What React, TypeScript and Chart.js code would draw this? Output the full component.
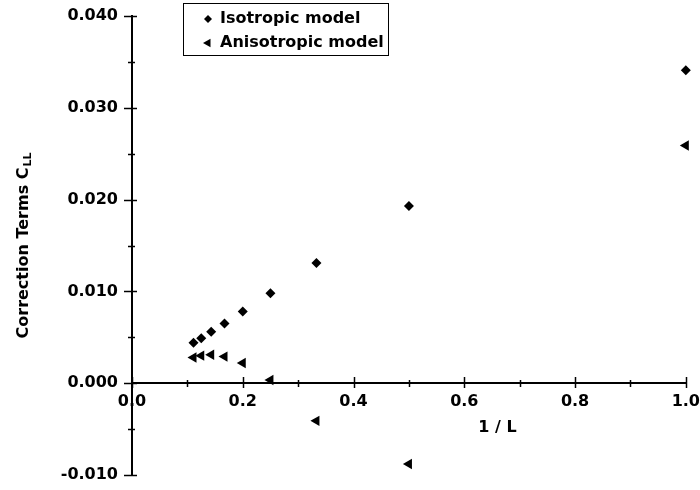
import { useEffect, useRef } from 'react';
import { Chart, registerables } from 'chart.js';

Chart.register(...registerables);

// 1/L values (L = 9, 8, 7, 6, 5, 4, 3, 2, 1)
const invL = [0.111, 0.125, 0.143, 0.167, 0.2, 0.25, 0.333, 0.5, 1.0];
const isotropic = [0.0044, 0.0049, 0.0056, 0.0065, 0.0078, 0.0098, 0.0131, 0.0193, 0.0341];
const anisotropic = [0.0028, 0.003, 0.0031, 0.0029, 0.0022, 0.00035, -0.0041, -0.0088, 0.0259];
const seriesLabels = ['Isotropic model', 'Anisotropic model'];

const xMajorTicks = [0, 0.2, 0.4, 0.6, 0.8, 1.0];
const xTickLabels = ['0.0', '0.2', '0.4', '0.6', '0.8', '1.0'];
const yMajorTicks = [-0.01, 0, 0.01, 0.02, 0.03, 0.04];
const yTickLabels = ['-0.010', '0.000', '0.010', '0.020', '0.030', '0.040'];

const xTitle = '1 / L';
const yTitleMain = 'Correction Terms C';
const yTitleSub = 'LL';

const FONT = '"DejaVu Sans", "Liberation Sans", Arial, sans-serif';
const FS = 16;

const findMajor = (v: number, majors: number[]) =>
  majors.findIndex((m) => Math.abs(m - v) < 1e-9);

function drawMarker(ctx: CanvasRenderingContext2D, style: string, x: number, y: number, r: number) {
  ctx.beginPath();
  if (style === 'rectRot') {
    ctx.moveTo(x - r, y);
    ctx.lineTo(x, y - r);
    ctx.lineTo(x + r, y);
    ctx.lineTo(x, y + r);
  } else {
    // left-pointing triangle
    ctx.moveTo(x - r, y);
    ctx.lineTo(x + r * 0.5, y - r * 0.866);
    ctx.lineTo(x + r * 0.5, y + r * 0.866);
  }
  ctx.closePath();
  ctx.fill();
}

const decorPlugin = {
  id: 'decor',
  afterDraw(chart: any) {
    const ctx: CanvasRenderingContext2D = chart.ctx;
    const xs = chart.scales.x;
    const ys = chart.scales.y;
    const ax = chart.chartArea.left;
    const ay = Math.round(ys.getPixelForValue(0));
    ctx.save();
    ctx.strokeStyle = '#000';
    ctx.fillStyle = '#000';
    ctx.lineWidth = 1.5;
    // y ticks crossing the axis
    ys.ticks.forEach((t: any) => {
      const py = Math.round(ys.getPixelForValue(t.value)) + 0.5;
      const major = findMajor(t.value, yMajorTicks) >= 0;
      ctx.beginPath();
      ctx.moveTo(ax - (major ? 8 : 4), py);
      ctx.lineTo(ax + (major ? 5 : 3), py);
      ctx.stroke();
    });
    // x ticks crossing the axis
    xs.ticks.forEach((t: any) => {
      const px = Math.round(xs.getPixelForValue(t.value)) + 0.5;
      const major = findMajor(t.value, xMajorTicks) >= 0;
      ctx.beginPath();
      ctx.moveTo(px, ay - (major ? 6 : 3));
      ctx.lineTo(px, ay + (major ? 5 : 4));
      ctx.stroke();
    });

    // x title
    ctx.font = `bold ${FS}px ${FONT}`;
    ctx.textAlign = 'center';
    ctx.textBaseline = 'middle';
    ctx.fillText(xTitle, xs.getPixelForValue(0.66), ay + 45);

    // y title with subscript
    const cy = (chart.chartArea.top + chart.chartArea.bottom) / 2;
    ctx.translate(22, cy);
    ctx.rotate(-Math.PI / 2);
    ctx.font = `bold ${FS}px ${FONT}`;
    const w1 = ctx.measureText(yTitleMain).width;
    ctx.font = `bold 11px ${FONT}`;
    const w2 = ctx.measureText(yTitleSub).width;
    const total = w1 + w2 + 1;
    ctx.textAlign = 'left';
    ctx.textBaseline = 'alphabetic';
    ctx.font = `bold ${FS}px ${FONT}`;
    ctx.fillText(yTitleMain, -total / 2, 6);
    ctx.font = `bold 11px ${FONT}`;
    ctx.fillText(yTitleSub, -total / 2 + w1 + 1, 9);
    ctx.restore();

    // legend
    ctx.save();
    ctx.strokeStyle = '#000';
    ctx.lineWidth = 1;
    ctx.strokeRect(183.5, 3.5, 205, 52);
    ctx.font = `bold ${FS}px ${FONT}`;
    ctx.fillStyle = '#000';
    ctx.textAlign = 'left';
    ctx.textBaseline = 'middle';
    chart.data.datasets.forEach((ds: any, i: number) => {
      const y = 19 + i * 24;
      drawMarker(ctx, ds.pointStyle, 208, y, ds.pointStyle === 'rectRot' ? 4 : 5);
      ctx.fillText(ds.label, 220, y);
    });
    ctx.restore();
  },
};

export default function App() {
  const ref = useRef<HTMLCanvasElement | null>(null);
  useEffect(() => {
    if (!ref.current) return;
    const chart = new Chart(ref.current, {
      type: 'scatter',
      data: {
        datasets: [
          {
            label: seriesLabels[0],
            data: invL.map((x, i) => ({ x, y: isotropic[i] })),
            pointStyle: 'rectRot',
            pointRadius: 5,
            pointBorderWidth: 0,
            backgroundColor: '#000',
            borderColor: '#000',
            clip: false,
          },
          {
            label: seriesLabels[1],
            data: invL.map((x, i) => ({ x, y: anisotropic[i] })),
            pointStyle: 'triangle',
            pointRotation: -90,
            pointRadius: 6,
            pointBorderWidth: 0,
            backgroundColor: '#000',
            borderColor: '#000',
            clip: false,
          },
        ],
      },
      plugins: [decorPlugin],
      options: {
        animation: false,
        responsive: false,
        events: [],
        layout: { padding: { top: 16, right: 13, bottom: 15, left: 0 } },
        plugins: { legend: { display: false }, tooltip: { enabled: false } },
        scales: {
          x: {
            type: 'linear',
            min: 0,
            max: 1,
            position: { y: 0 },
            grid: { display: false, drawTicks: true, tickLength: 9 },
            border: { display: true, color: '#000', width: 2 },
            ticks: {
              stepSize: 0.1,
              padding: 0,
              color: '#000',
              font: { family: FONT, size: FS, weight: 'bold' },
              maxRotation: 0,
              autoSkip: false,
              callback: (v: any) => {
                const i = findMajor(Number(v), xMajorTicks);
                return i >= 0 ? xTickLabels[i] : '';
              },
            },
          },
          y: {
            type: 'linear',
            min: -0.01,
            max: 0.04,
            grid: { display: false, drawTicks: true, tickLength: 14 },
            border: { display: true, color: '#000', width: 2 },
            ticks: {
              stepSize: 0.005,
              padding: 0,
              color: '#000',
              font: { family: FONT, size: FS, weight: 'bold' },
              autoSkip: false,
              callback: (v: any) => {
                const i = findMajor(Number(v), yMajorTicks);
                return i >= 0 ? yTickLabels[i] : '';
              },
            },
            afterFit: (scale: any) => {
              scale.width = 132;
            },
          },
        },
      },
    });
    return () => chart.destroy();
  }, []);
  return (
    <div style={{ position: 'fixed', left: 0, top: 0, width: 700, height: 490, background: '#fff' }}>
      <canvas ref={ref} width={700} height={490} style={{ width: 700, height: 490 }} />
    </div>
  );
}
